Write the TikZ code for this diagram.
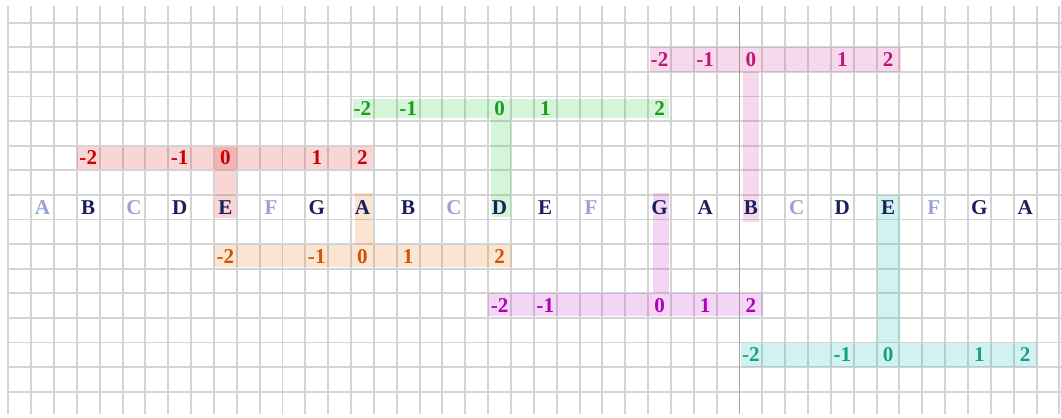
\documentclass[tikz,border=0pt]{standalone}
\usepackage{fontspec}
\setmainfont{Liberation Serif}
\definecolor{navy}{HTML}{1B1F5C}
\definecolor{lilac}{HTML}{98A2D4}
\definecolor{magtxt}{HTML}{C0157A}\definecolor{magfill}{HTML}{D63FA0}
\definecolor{grntxt}{HTML}{1C9C1C}\definecolor{grnfill}{HTML}{2ECC40}
\definecolor{redtxt}{HTML}{CC0000}\definecolor{redfill}{HTML}{E03030}
\definecolor{orgtxt}{HTML}{D35400}\definecolor{orgfill}{HTML}{E67E22}
\definecolor{purtxt}{HTML}{B000B8}\definecolor{purfill}{HTML}{C030C8}
\definecolor{teatxt}{HTML}{16A085}\definecolor{teafill}{HTML}{20C0C0}

\begin{document}
\begin{tikzpicture}[x=0.457cm,y=-0.492cm,font=\fontsize{12}{14}\selectfont\bfseries,
  gridline/.style={draw=black!17,line width=1.1pt},
  band/.style={fill=#1,fill opacity=.2},
  num/.style={text=#1,inner sep=0pt},
  dk/.style={text=navy,inner sep=0pt},lt/.style={text=lilac,inner sep=0pt}]
\useasboundingbox(-0.363,0.077)rectangle(46.07,17.03);
\foreach\c in{0,...,46}\draw[gridline](\c,0.32)--(\c,16.91);
\foreach\r in{1,...,16}\draw[gridline](0,\r)--(46.1,\r);
\draw[black!35,line width=.4pt](32,0.32)--(32,16.91);
% bands and stems
\fill[band=magfill](28.08,1.97)rectangle(39.05,2.99);\fill[band=magfill](32.14,2.99)rectangle(32.87,9.09);
\fill[band=grnfill](15.1,4.1)rectangle(28.93,4.86);\fill[band=grnfill](21.11,4.86)rectangle(21.99,8.9);
\fill[band=redfill](2.99,6.04)rectangle(15.97,6.95);\fill[band=redfill](9.05,6.04)rectangle(9.96,8.94);
\fill[band=orgfill](9,10.04)rectangle(22.03,10.94);\fill[band=orgfill](15.17,7.92)rectangle(15.97,10.04);
\fill[band=purfill](21,12)rectangle(33.04,12.92);\fill[band=purfill](28.21,7.92)rectangle(28.93,12);
\fill[band=teafill](32.05,14.01)rectangle(45.03,15.01);\fill[band=teafill](38.03,8)rectangle(39.02,14.01);
% letters
\foreach\c/\l/\s[count=\i] in{1/A/lt,3/B/dk,5/C/lt,7/D/dk,9/E/dk,11/F/lt,13/G/dk,15/A/dk,17/B/dk,19/C/lt,21/D/dk,
  23/E/dk,25/F/lt,28/G/dk,30/A/dk,32/B/dk,34/C/lt,36/D/dk,38/E/dk,40/F/lt,42/G/dk,44/A/dk}
  \node[\s](note\i)at(\c+.5,8.5){\l};
% numbers
\foreach\c/\t[count=\i] in{28/-2,30/-1,32/0,36/1,38/2}\node[num=magtxt](mag\i)at(\c+.5,2.5){\t};
\foreach\c/\t[count=\i] in{15/-2,17/-1,21/0,23/1,28/2}\node[num=grntxt](grn\i)at(\c+.5,4.5){\t};
\foreach\c/\t[count=\i] in{3/-2,7/-1,9/0,13/1,15/2}\node[num=redtxt](red\i)at(\c+.5,6.5){\t};
\foreach\c/\t[count=\i] in{9/-2,13/-1,15/0,17/1,21/2}\node[num=orgtxt](org\i)at(\c+.5,10.5){\t};
\foreach\c/\t[count=\i] in{21/-2,23/-1,28/0,30/1,32/2}\node[num=purtxt](pur\i)at(\c+.5,12.5){\t};
\foreach\c/\t[count=\i] in{32/-2,36/-1,38/0,42/1,44/2}\node[num=teatxt](tea\i)at(\c+.5,14.5){\t};
\end{tikzpicture}
\end{document}
